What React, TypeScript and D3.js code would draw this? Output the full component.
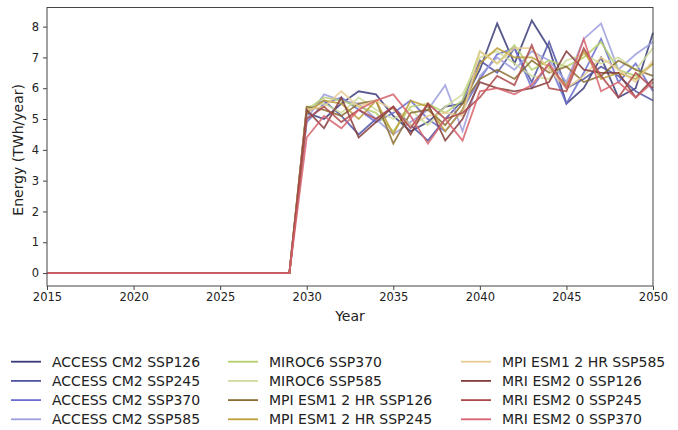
import React, { useEffect, useRef } from 'react';
import * as d3 from 'd3';

const zeroYears = d3.range(2015, 2030);
const activeYears = d3.range(2030, 2051);

const seriesNames = [
  'ACCESS CM2 SSP126', 'ACCESS CM2 SSP245', 'ACCESS CM2 SSP370', 'ACCESS CM2 SSP585',
  'MIROC6 SSP370', 'MIROC6 SSP585', 'MPI ESM1 2 HR SSP126', 'MPI ESM1 2 HR SSP245',
  'MPI ESM1 2 HR SSP585', 'MRI ESM2 0 SSP126', 'MRI ESM2 0 SSP245', 'MRI ESM2 0 SSP370',
];

const seriesColors = [
  '#393b79', '#5254a3', '#6b6ecf', '#9c9ede',
  '#b5cf6b', '#cedb9c', '#8c6d31', '#bd9e39',
  '#e7cb94', '#843c39', '#ad494a', '#d6616b',
];

// values for 2030..2050 (all series are 0 from 2015 to 2029)
const access126 = [5.2, 5.0, 5.5, 5.9, 5.8, 5.1, 4.6, 4.9, 5.4, 5.5, 6.6, 8.1, 6.8, 8.2, 7.3, 5.5, 6.0, 7.0, 5.7, 6.0, 7.8];
const access245 = [5.3, 5.6, 5.1, 4.5, 5.0, 5.4, 4.8, 4.3, 5.0, 5.6, 6.9, 6.5, 7.3, 6.2, 7.5, 6.0, 6.3, 6.7, 6.4, 5.9, 5.6];
const access370 = [4.9, 5.5, 5.7, 5.3, 4.9, 5.2, 5.6, 5.0, 4.6, 5.3, 6.3, 7.1, 7.3, 6.0, 6.8, 5.5, 6.5, 7.6, 6.2, 6.8, 5.9];
const access585 = [5.0, 5.8, 5.6, 5.5, 5.0, 4.5, 4.9, 5.3, 6.1, 4.6, 6.4, 7.0, 6.6, 7.2, 6.9, 6.2, 7.6, 8.1, 6.6, 7.1, 7.5];
const miroc370 = [5.3, 5.7, 5.6, 5.4, 5.2, 4.6, 5.4, 5.5, 5.2, 5.6, 7.2, 6.8, 7.4, 6.6, 6.9, 6.7, 7.0, 7.5, 6.6, 6.4, 6.8];
const miroc585 = [5.4, 5.5, 5.2, 5.7, 5.3, 5.0, 5.3, 4.8, 5.4, 5.8, 7.0, 7.2, 6.8, 6.4, 6.3, 6.9, 7.1, 6.8, 7.0, 6.6, 7.3];
const mpi126 = [5.4, 5.3, 5.1, 5.5, 5.6, 4.2, 5.2, 5.3, 4.8, 5.5, 6.3, 6.6, 6.3, 6.9, 6.5, 6.7, 6.2, 6.4, 6.9, 6.6, 6.4];
const mpi245 = [5.2, 5.6, 5.5, 5.0, 5.6, 4.5, 5.6, 5.4, 4.6, 5.3, 6.8, 7.3, 7.0, 7.0, 6.7, 6.1, 7.2, 6.3, 6.5, 6.3, 6.8];
const mpi585 = [5.3, 5.4, 5.9, 5.4, 5.6, 5.3, 4.8, 5.1, 5.2, 5.1, 7.2, 6.8, 7.3, 7.3, 6.6, 6.0, 6.4, 7.0, 6.6, 6.2, 6.9];
const mri126 = [5.3, 4.7, 5.7, 4.4, 4.9, 5.4, 4.5, 5.5, 4.3, 5.0, 6.2, 6.0, 5.9, 6.0, 6.2, 7.2, 6.6, 6.5, 6.5, 5.7, 6.3];
const mri245 = [5.0, 5.4, 4.9, 5.3, 5.0, 5.4, 4.7, 5.5, 5.0, 5.2, 5.7, 6.4, 6.1, 7.4, 6.0, 5.9, 7.3, 6.4, 5.7, 6.5, 6.0];
const mri370 = [4.4, 5.1, 4.7, 5.3, 5.6, 5.8, 5.1, 4.2, 5.0, 4.3, 5.9, 6.0, 5.8, 6.1, 6.8, 6.0, 7.6, 5.9, 6.2, 5.7, 6.2];

const seriesValues = [
  access126, access245, access370, access585,
  miroc370, miroc585, mpi126, mpi245,
  mpi585, mri126, mri245, mri370,
];

const xTicks = [2015, 2020, 2025, 2030, 2035, 2040, 2045, 2050];
const yTicks = [0, 1, 2, 3, 4, 5, 6, 7, 8];

function EnergyChart({ width = 678, height = 430 }) {
  const svgRef = useRef<SVGSVGElement>(null);

  useEffect(() => {
    const svg = d3.select(svgRef.current);
    svg.selectAll('*').remove();

    const margin = { top: 7.5, right: 25, bottom: 144, left: 47 };
    const innerWidth = width - margin.left - margin.right;
    const innerHeight = height - margin.top - margin.bottom;
    const font = 'DejaVu Sans, sans-serif';

    const xScale = d3.scaleLinear().domain([2015, 2050]).range([0, innerWidth]);
    const yScale = d3.scaleLinear().domain([-0.42, 8.62]).range([innerHeight, 0]);

    const g = svg.append('g').attr('transform', `translate(${margin.left},${margin.top})`);

    const line = d3.line<[number, number]>()
      .x(d => xScale(d[0]))
      .y(d => yScale(d[1]));

    seriesValues.forEach((vals, i) => {
      const pts: [number, number][] = [
        ...zeroYears.map(y => [y, 0] as [number, number]),
        ...activeYears.map((y, j) => [y, vals[j]] as [number, number]),
      ];
      g.append('path')
        .datum(pts)
        .attr('d', line)
        .attr('fill', 'none')
        .attr('stroke', seriesColors[i])
        .attr('stroke-width', 1.8)
        .attr('stroke-opacity', 0.85);
    });

    g.append('rect')
      .attr('width', innerWidth)
      .attr('height', innerHeight)
      .attr('fill', 'none')
      .attr('stroke', '#444')
      .attr('stroke-width', 1);

    const xAxis = g.append('g')
      .attr('transform', `translate(0,${innerHeight})`)
      .call(d3.axisBottom(xScale).tickValues(xTicks).tickFormat(d3.format('d')).tickSize(4).tickPadding(3));
    const yAxis = g.append('g')
      .call(d3.axisLeft(yScale).tickValues(yTicks).tickSize(4).tickPadding(4));

    [xAxis, yAxis].forEach(ax => {
      ax.select('.domain').remove();
      ax.selectAll('line').attr('stroke', '#444');
      ax.selectAll('text').style('font-family', font).style('font-size', '11.5px').attr('fill', '#222');
    });

    svg.append('text')
      .attr('x', margin.left + innerWidth / 2)
      .attr('y', 321)
      .attr('text-anchor', 'middle')
      .style('font-family', font)
      .style('font-size', '14px')
      .attr('fill', '#222')
      .text('Year');

    svg.append('text')
      .attr('transform', `translate(23, ${margin.top + yScale(4)}) rotate(-90)`)
      .attr('text-anchor', 'middle')
      .style('font-family', font)
      .style('font-size', '14px')
      .attr('fill', '#222')
      .text('Energy (TWh/year)');

    const colX = [11, 228, 461];
    const legend = svg.append('g');
    seriesNames.forEach((name, i) => {
      const col = Math.floor(i / 4);
      const row = i % 4;
      const y = 361.7 + row * 19.2;
      legend.append('line')
        .attr('x1', colX[col]).attr('x2', colX[col] + 30)
        .attr('y1', y).attr('y2', y)
        .attr('stroke', seriesColors[i])
        .attr('stroke-width', 1.8);
      legend.append('text')
        .attr('x', colX[col] + 41)
        .attr('y', y)
        .attr('dy', '0.35em')
        .style('font-family', font)
        .style('font-size', '14px')
        .attr('fill', '#222')
        .text(name);
    });
  }, [width, height]);

  return (
    <svg
      ref={svgRef}
      width={width}
      height={height}
      style={{ position: 'absolute', left: 0, top: 0, display: 'block' }}
    ></svg>
  );
}

export default function App() {
  return <EnergyChart />;
}
